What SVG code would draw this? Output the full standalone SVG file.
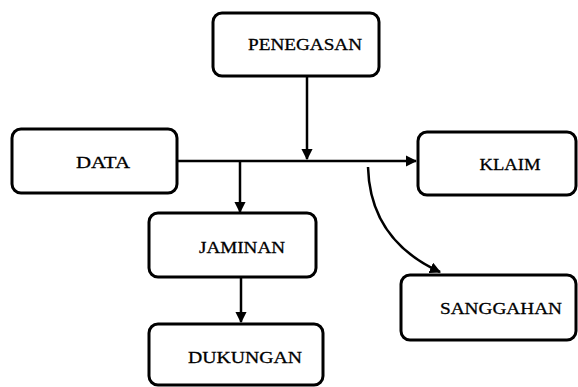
<svg xmlns="http://www.w3.org/2000/svg" width="578" height="387" viewBox="0 0 578 387">
<style>
.box{fill:#fff;stroke:#000;stroke-width:3}
.lbl{font-family:"Liberation Serif",serif;font-size:17px;fill:#000;stroke:#000;stroke-width:0.3;text-anchor:middle}
.ln{fill:none;stroke:#000;stroke-width:2.5}
</style>
<defs>
<marker id="ah" viewBox="0 0 10 10" refX="9" refY="5" markerWidth="4.5" markerHeight="4.5" orient="auto" markerUnits="strokeWidth">
<path d="M0,0 L10,5 L0,10 Z" fill="#000"/>
</marker>
</defs>
<g id="connectors">
<line class="ln" x1="307" y1="76" x2="307" y2="159" marker-end="url(#ah)"/>
<line class="ln" x1="177" y1="161" x2="416" y2="161" marker-end="url(#ah)"/>
<line class="ln" x1="240" y1="161" x2="240" y2="212" marker-end="url(#ah)"/>
<line class="ln" x1="241" y1="277" x2="241" y2="322" marker-end="url(#ah)"/>
<path class="ln" d="M368,167 Q370,240 440,272" marker-end="url(#ah)"/>
</g>
<g id="penegasan"><rect class="box" x="213" y="13" width="166" height="63" rx="9"/><text class="lbl" x="305" y="50" textLength="114" lengthAdjust="spacingAndGlyphs">PENEGASAN</text></g>
<g id="data"><rect class="box" x="12" y="129" width="165" height="64" rx="9"/><text class="lbl" x="103" y="168" textLength="54" lengthAdjust="spacingAndGlyphs">DATA</text></g>
<g id="klaim"><rect class="box" x="418" y="132" width="158" height="63" rx="9"/><text class="lbl" x="510" y="170" textLength="61" lengthAdjust="spacingAndGlyphs">KLAIM</text></g>
<g id="jaminan"><rect class="box" x="149" y="213" width="167" height="64" rx="9"/><text class="lbl" x="242" y="253" textLength="86" lengthAdjust="spacingAndGlyphs">JAMINAN</text></g>
<g id="sanggahan"><rect class="box" x="401" y="275" width="175" height="65" rx="9"/><text class="lbl" x="501" y="314" textLength="122" lengthAdjust="spacingAndGlyphs">SANGGAHAN</text></g>
<g id="dukungan"><rect class="box" x="149" y="324" width="174" height="61" rx="9"/><text class="lbl" x="245" y="363" textLength="114" lengthAdjust="spacingAndGlyphs">DUKUNGAN</text></g>
</svg>
